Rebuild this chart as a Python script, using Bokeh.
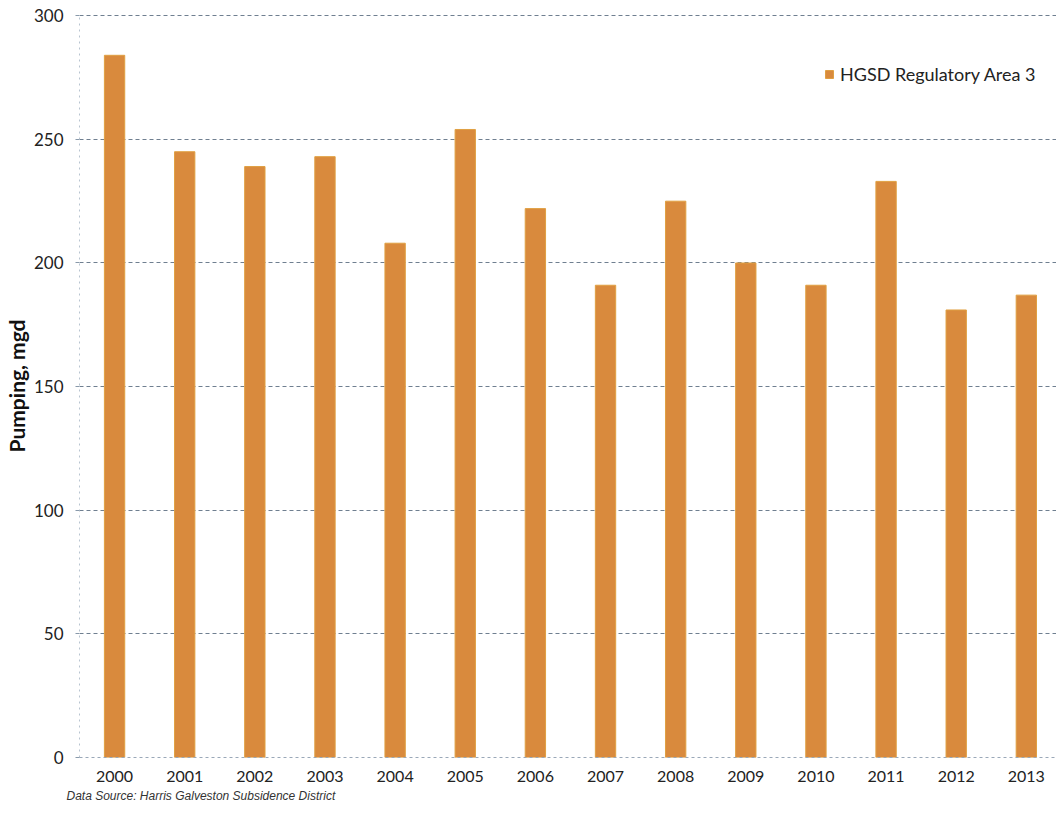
from bokeh.plotting import figure
from bokeh.models import Range1d, FixedTicker, ColumnDataSource, Legend, LegendItem, Title
from bokeh.embed import file_html
from bokeh.resources import INLINE

years = ["2000", "2001", "2002", "2003", "2004", "2005", "2006",
         "2007", "2008", "2009", "2010", "2011", "2012", "2013"]
pumping = [284, 245, 239, 243, 208, 254, 222, 191, 225, 200, 191, 233, 181, 187]
series_name = "HGSD Regulatory Area 3"
y_ticks = [0, 50, 100, 150, 200, 250, 300]
source_note = "Data Source: Harris Galveston Subsidence District"

idx = list(range(len(years)))
src = ColumnDataSource(dict(x=idx, top=pumping, year=years))

p = figure(width=1056, height=815, output_backend="svg", toolbar_location=None,
           x_range=Range1d(-0.5, len(years) - 1 + 0.43), y_range=Range1d(0, 300.5),
           min_border_left=77, min_border_right=0, min_border_top=14, min_border_bottom=58)
p.outline_line_color = None
p.background_fill_color = "white"
p.border_fill_color = "white"

r = p.vbar(x="x", top="top", width=0.29, source=src,
           fill_color="#D98A3D", line_color="#E0A043", line_width=1)

# axes
p.xaxis.ticker = FixedTicker(ticks=idx)
p.xaxis.major_label_overrides = {i: y for i, y in zip(idx, years)}
p.xaxis.major_tick_out = 0
p.xaxis.major_tick_in = 0
p.xaxis.minor_tick_line_color = None
p.xaxis.axis_line_color = "#9AA8B8"
p.xaxis.axis_line_dash = "3 3"
p.xaxis.major_label_standoff = 13
p.xaxis.major_label_text_font = "Lato"
p.xaxis.major_label_text_font_size = "16px"
p.xaxis.major_label_text_color = "#222222"

p.yaxis.ticker = FixedTicker(ticks=y_ticks)
p.yaxis.major_tick_out = 4
p.yaxis.major_tick_in = 0
p.yaxis.major_tick_line_color = "#8899AA"
p.yaxis.minor_tick_line_color = None
p.yaxis.axis_line_color = "#B8C4D0"
p.yaxis.axis_line_dash = "2 4"
p.yaxis.major_label_standoff = 12
p.yaxis.major_label_text_font = "Lato"
p.yaxis.major_label_text_font_size = "17px"
p.yaxis.major_label_text_color = "#222222"
p.yaxis.axis_label = "Pumping, mgd"
p.yaxis.axis_label_text_font = "Lato"
p.yaxis.axis_label_text_font_size = "21px"
p.yaxis.axis_label_text_font_style = "bold"
p.yaxis.axis_label_text_color = "#111111"
p.yaxis.axis_label_standoff = 2

p.xgrid.grid_line_color = None
p.ygrid.grid_line_color = "#6F7F90"
p.ygrid.grid_line_dash = "4 3"
p.ygrid.grid_line_width = 1

legend = Legend(items=[LegendItem(label=series_name, renderers=[r])],
                location=(745, 672), border_line_color=None,
                background_fill_alpha=0, padding=0, margin=0,
                glyph_width=10, glyph_height=10, label_standoff=6,
                label_text_font="Lato", label_text_font_size="18px",
                label_text_color="#222222", label_height=20)
p.add_layout(legend, "center")

note = Title(text=source_note, align="left", offset=-13, standoff=4,
             text_font="Liberation Sans", text_font_size="12px",
             text_font_style="italic", text_color="#333333")
p.add_layout(note, "below")

open("out.html", "w").write(file_html(p, INLINE))
